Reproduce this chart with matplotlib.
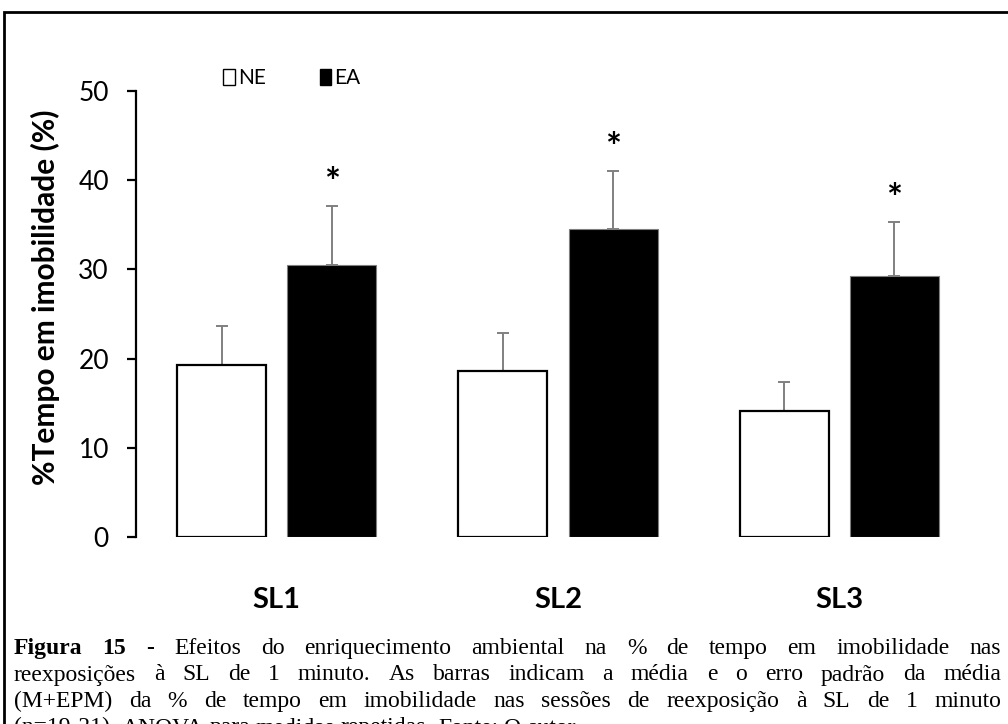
import matplotlib
matplotlib.use("Agg")
import matplotlib.pyplot as plt
from matplotlib.patches import Rectangle, Patch
import numpy as np

# ---- data ----
categories = ["SL1", "SL2", "SL3"]
series_names = ["NE", "EA"]
ne_mean = [19.3, 18.6, 14.1]
ne_sem = [4.4, 4.3, 3.3]
ea_mean = [30.5, 34.5, 29.3]
ea_sem = [6.6, 6.5, 6.0]
significant = [True, True, True]
y_ticks = [0, 10, 20, 30, 40, 50]

caption_lines = [
    "Figura 15 - Efeitos do enriquecimento ambiental na % de tempo em imobilidade nas",
    "reexposições à SL de 1 minuto. As barras indicam a média e o erro padrão da média",
    "(M+EPM) da % de tempo em imobilidade nas sessões de reexposição à SL de 1 minuto",
    "(n=19-21). ANOVA para medidas repetidas. Fonte: O autor.",
]
caption_bold_words = 3  # "Figura", "15", "-"

W, H = 1008, 724
fig = plt.figure(figsize=(W / 100, H / 100), dpi=100)
fig.patch.set_facecolor("white")

sans = ["Lato", "DejaVu Sans"]
serif = ["Liberation Serif", "DejaVu Serif"]

ax = fig.add_axes([136 / W, 187 / H, 844 / W, 446 / H])
x = np.arange(len(categories))
bw = 0.316
off = 0.196

ax.bar(x - off, ne_mean, bw, color="white", edgecolor="black", linewidth=1.6, zorder=2)
ax.bar(x + off, ea_mean, bw, color="black", edgecolor="#7f7f7f", linewidth=0.8, zorder=2)
ax.errorbar(x - off, ne_mean, yerr=[np.zeros(3), ne_sem], fmt="none",
            ecolor="#808080", elinewidth=1.4, capsize=4.5, capthick=1.4, zorder=1)
ax.errorbar(x + off, ea_mean, yerr=[np.zeros(3), ea_sem], fmt="none",
            ecolor="#808080", elinewidth=1.4, capsize=4.5, capthick=1.4, zorder=1)

for xi, m, s, sig in zip(x + off, ea_mean, ea_sem, significant):
    if sig:
        ax.annotate("*", xy=(xi, m + s), xytext=(0, 16), textcoords="offset points",
                    ha="center", va="center", fontsize=27, fontweight="bold",
                    family=sans, color="black")

ax.set_xlim(-0.5, 2.5)
ax.set_ylim(0, 50)
ax.set_yticks(y_ticks)
ax.set_yticklabels([str(t) for t in y_ticks], family=sans, fontsize=19)
ax.set_xticks(x)
ax.set_xticklabels(categories, family=sans, fontsize=21, fontweight="bold")
ax.tick_params(axis="x", length=0, pad=36)
ax.tick_params(axis="y", length=6.5, width=1.6, direction="out", pad=13)
for sp in ["top", "right", "bottom"]:
    ax.spines[sp].set_visible(False)
ax.spines["left"].set_linewidth(1.6)
ax.set_ylabel("%Tempo em imobilidade (%)", family=sans, fontsize=21.5,
              fontweight="bold")
ax.yaxis.set_label_coords(-76 / 844, (537 - 297) / 446)

# legend
handles = [Patch(facecolor="white", edgecolor="black", linewidth=1.0),
           Patch(facecolor="black", edgecolor="black", linewidth=1.0)]
fig.legend(handles, series_names, loc="center", bbox_to_anchor=(292 / W, 1 - 78 / H),
           ncol=2, frameon=False, prop={"family": sans, "size": 15},
           handlelength=0.55, handleheight=0.8, handletextpad=0.15, columnspacing=2.6)

# outer border
fig.add_artist(Rectangle((4 / W, -0.1), 1.1, 1 - 11.5 / H + 0.1, transform=fig.transFigure,
                         fill=False, edgecolor="black", linewidth=2.0, clip_on=False))

# caption (justified)
fig.canvas.draw()
renderer = fig.canvas.get_renderer()
x0, x1 = 14 / W, 1001 / W
baselines = [654, 680.5, 707, 733.5]
cap_size = 17

for li, (line, yb) in enumerate(zip(caption_lines, baselines)):
    words = line.split(" ")
    texts = []
    for wi, w in enumerate(words):
        bold = (li == 0 and wi < caption_bold_words)
        t = fig.text(0, 1 - yb / H, w, family=serif, fontsize=cap_size,
                     fontweight="bold" if bold else "normal", va="baseline", ha="left")
        texts.append(t)
    widths = [t.get_window_extent(renderer).width / W for t in texts]
    if li < len(caption_lines) - 1:
        gap = (x1 - x0 - sum(widths)) / (len(words) - 1)
    else:
        a = fig.text(0, 0, "a b", family=serif, fontsize=cap_size)
        b = fig.text(0, 0, "ab", family=serif, fontsize=cap_size)
        gap = (a.get_window_extent(renderer).width - b.get_window_extent(renderer).width) / W
        a.remove(); b.remove()
    cx = x0
    for t, w in zip(texts, widths):
        t.set_x(cx)
        cx += w + gap

fig.savefig("out.png", dpi=100, facecolor="white")
